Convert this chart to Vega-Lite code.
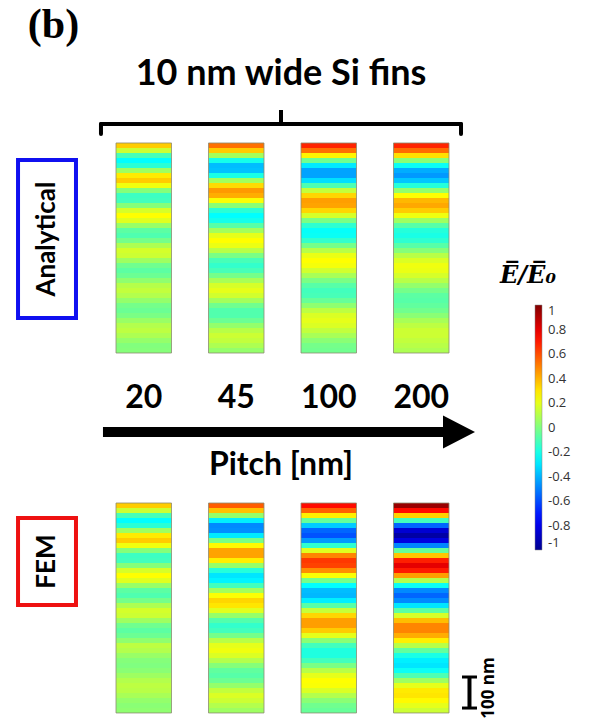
{
  "$schema": "https://vega.github.io/schema/vega-lite/v6.json",
  "width": 605,
  "height": 725,
  "autosize": {"type": "fit", "contains": "padding"},
  "padding": 0,
  "background": "white",
  "config": {"view": {"stroke": null}},
  "datasets": {
    "analytical": [
      {"z": 0, "20": 0.35, "45": 0.53, "100": 0.68, "200": 0.68},
      {"z": 16, "20": 0.15, "45": 0.35, "100": 0.53, "200": 0.54},
      {"z": 32, "20": -0.11, "45": 0.07, "100": 0.27, "200": 0.31},
      {"z": 48, "20": -0.25, "45": -0.21, "100": -0.03, "200": 0.02},
      {"z": 64, "20": -0.17, "45": -0.38, "100": -0.29, "200": -0.23},
      {"z": 80, "20": 0.06, "45": -0.37, "100": -0.43, "200": -0.41},
      {"z": 96, "20": 0.29, "45": -0.2, "100": -0.43, "200": -0.45},
      {"z": 112, "20": 0.35, "45": 0.07, "100": -0.31, "200": -0.36},
      {"z": 128, "20": 0.22, "45": 0.32, "100": -0.1, "200": -0.18},
      {"z": 144, "20": 0.01, "45": 0.45, "100": 0.135, "200": 0.04},
      {"z": 160, "20": -0.13, "45": 0.41, "100": 0.33, "200": 0.25},
      {"z": 176, "20": -0.12, "45": 0.24, "100": 0.44, "200": 0.39},
      {"z": 192, "20": 0.01, "45": 0.02, "100": 0.43, "200": 0.42},
      {"z": 208, "20": 0.17, "45": -0.17, "100": 0.33, "200": 0.35},
      {"z": 224, "20": 0.25, "45": -0.25, "100": 0.17, "200": 0.22},
      {"z": 240, "20": 0.19, "45": -0.21, "100": -0.01, "200": 0.06},
      {"z": 256, "20": 0.05, "45": -0.08, "100": -0.16, "200": -0.08},
      {"z": 272, "20": -0.07, "45": 0.07, "100": -0.24, "200": -0.18},
      {"z": 288, "20": -0.095, "45": 0.2, "100": -0.23, "200": -0.2},
      {"z": 304, "20": -0.02, "45": 0.25, "100": -0.15, "200": -0.16},
      {"z": 320, "20": 0.09, "45": 0.21, "100": -0.02, "200": -0.08},
      {"z": 336, "20": 0.165, "45": 0.11, "100": 0.11, "200": 0.01},
      {"z": 352, "20": 0.15, "45": -0.01, "100": 0.21, "200": 0.11},
      {"z": 368, "20": 0.06, "45": -0.11, "100": 0.25, "200": 0.18},
      {"z": 384, "20": -0.03, "45": -0.15, "100": 0.23, "200": 0.22},
      {"z": 400, "20": -0.07, "45": -0.11, "100": 0.16, "200": 0.21},
      {"z": 416, "20": -0.04, "45": -0.02, "100": 0.08, "200": 0.17},
      {"z": 432, "20": 0.03, "45": 0.08, "100": -0.01, "200": 0.11},
      {"z": 448, "20": 0.105, "45": 0.17, "100": -0.08, "200": 0.04},
      {"z": 464, "20": 0.13, "45": 0.2, "100": -0.12, "200": -0.02},
      {"z": 480, "20": 0.1, "45": 0.16, "100": -0.11, "200": -0.07},
      {"z": 496, "20": 0.04, "45": 0.07, "100": -0.05, "200": -0.08},
      {"z": 512, "20": -0.02, "45": -0.03, "100": 0.03, "200": -0.06},
      {"z": 528, "20": -0.04, "45": -0.09, "100": 0.12, "200": -0.03},
      {"z": 544, "20": -0.01, "45": -0.09, "100": 0.18, "200": 0.02},
      {"z": 560, "20": 0.05, "45": -0.04, "100": 0.2, "200": 0.08},
      {"z": 576, "20": 0.1, "45": 0.04, "100": 0.18, "200": 0.12},
      {"z": 592, "20": 0.12, "45": 0.11, "100": 0.13, "200": 0.15},
      {"z": 608, "20": 0.09, "45": 0.15, "100": 0.08, "200": 0.15},
      {"z": 624, "20": 0.043, "45": 0.13, "100": 0.02, "200": 0.13},
      {"z": 640, "20": 0.005, "45": 0.09, "100": -0.02, "200": 0.11},
      {"z": 656, "20": 0.01, "45": 0.04, "100": -0.03, "200": 0.09}
    ],
    "fem": [
      {"z": 0, "20": 0.35, "45": 0.57, "100": 0.73, "200": 0.95},
      {"z": 16, "20": 0.15, "45": 0.37, "100": 0.56, "200": 0.73},
      {"z": 32, "20": -0.11, "45": 0.04, "100": 0.28, "200": 0.34},
      {"z": 48, "20": -0.25, "45": -0.28, "100": -0.05, "200": -0.12},
      {"z": 64, "20": -0.17, "45": -0.48, "100": -0.35, "200": -0.55},
      {"z": 80, "20": 0.06, "45": -0.47, "100": -0.55, "200": -0.85},
      {"z": 96, "20": 0.29, "45": -0.29, "100": -0.59, "200": -0.95},
      {"z": 112, "20": 0.35, "45": -0.01, "100": -0.45, "200": -0.82},
      {"z": 128, "20": 0.22, "45": 0.26, "100": -0.16, "200": -0.49},
      {"z": 144, "20": 0.01, "45": 0.43, "100": 0.19, "200": -0.05},
      {"z": 160, "20": -0.13, "45": 0.43, "100": 0.49, "200": 0.36},
      {"z": 176, "20": -0.12, "45": 0.28, "100": 0.64, "200": 0.69},
      {"z": 192, "20": 0.01, "45": 0.045, "100": 0.62, "200": 0.8},
      {"z": 208, "20": 0.17, "45": -0.18, "100": 0.47, "200": 0.7},
      {"z": 224, "20": 0.25, "45": -0.3, "100": 0.24, "200": 0.44},
      {"z": 240, "20": 0.19, "45": -0.27, "100": -0.02, "200": 0.1},
      {"z": 256, "20": 0.05, "45": -0.12, "100": -0.25, "200": -0.23},
      {"z": 272, "20": -0.07, "45": 0.07, "100": -0.38, "200": -0.48},
      {"z": 288, "20": -0.095, "45": 0.245, "100": -0.39, "200": -0.55},
      {"z": 304, "20": -0.02, "45": 0.33, "100": -0.28, "200": -0.48},
      {"z": 320, "20": 0.09, "45": 0.3, "100": -0.08, "200": -0.3},
      {"z": 336, "20": 0.165, "45": 0.19, "100": 0.14, "200": -0.07},
      {"z": 352, "20": 0.15, "45": 0.04, "100": 0.33, "200": 0.17},
      {"z": 368, "20": 0.06, "45": -0.09, "100": 0.44, "200": 0.38},
      {"z": 384, "20": -0.03, "45": -0.15, "100": 0.44, "200": 0.49},
      {"z": 400, "20": -0.07, "45": -0.12, "100": 0.35, "200": 0.49},
      {"z": 416, "20": -0.04, "45": -0.02, "100": 0.2, "200": 0.41},
      {"z": 432, "20": 0.03, "45": 0.11, "100": 0.02, "200": 0.28},
      {"z": 448, "20": 0.12, "45": 0.2, "100": -0.12, "200": 0.11},
      {"z": 464, "20": 0.1, "45": 0.22, "100": -0.19, "200": -0.06},
      {"z": 480, "20": 0.05, "45": 0.18, "100": -0.19, "200": -0.2},
      {"z": 496, "20": 0.01, "45": 0.1, "100": -0.12, "200": -0.28},
      {"z": 512, "20": 0.0, "45": 0.01, "100": -0.01, "200": -0.3},
      {"z": 528, "20": 0.02, "45": -0.06, "100": 0.11, "200": -0.23},
      {"z": 544, "20": 0.06, "45": -0.08, "100": 0.2, "200": -0.1},
      {"z": 560, "20": 0.1, "45": -0.04, "100": 0.25, "200": 0.06},
      {"z": 576, "20": 0.12, "45": 0.04, "100": 0.24, "200": 0.2},
      {"z": 592, "20": 0.11, "45": 0.13, "100": 0.18, "200": 0.29},
      {"z": 608, "20": 0.08, "45": 0.18, "100": 0.1, "200": 0.3},
      {"z": 624, "20": 0.04, "45": 0.15, "100": 0.02, "200": 0.26},
      {"z": 640, "20": 0.02, "45": 0.1, "100": -0.03, "200": 0.2},
      {"z": 656, "20": 0.03, "45": 0.06, "100": -0.05, "200": 0.15}
    ],
    "pitches": [
      {"pitch": "20"}, {"pitch": "45"}, {"pitch": "100"}, {"pitch": "200"}
    ]
  },
  "layer": [
    {
      "data": {"name": "analytical"},
      "transform": [{"fold": ["20", "45", "100", "200"], "as": ["pitch", "v"]}],
      "mark": {"type": "rect"},
      "encoding": {
        "x": {"field": "pitch", "type": "nominal", "scale": {"type": "band", "domain": ["20", "45", "100", "200"], "range": [116, 449], "paddingInner": 0.4, "paddingOuter": 0}, "axis": null},
        "y": {"field": "z", "type": "ordinal", "scale": {"type": "band", "range": [143, 353], "paddingInner": 0, "paddingOuter": 0}, "axis": null},
        "color": {
          "field": "v", "type": "quantitative",
          "scale": {"domain": [-1, -0.75, -0.25, 0.25, 0.75, 1], "range": ["#00008f", "#0000ff", "#00ffff", "#ffff00", "#ff0000", "#800000"], "interpolate": "rgb"},
          "legend": {"orient": "none", "legendX": 535, "legendY": 305, "direction": "vertical", "gradientLength": 245, "gradientThickness": 7, "title": null, "padding": 0, "values": [1, 0.8, 0.6, 0.4, 0.2, 0, -0.2, -0.4, -0.6, -0.8, -1], "labelExpr": "'' + datum.value", "labelFont": "Open Sans", "labelFontSize": 13, "labelColor": "#333333", "labelOffset": 6, "labelBaseline": "middle", "labelAlign": "left", "labelOverlap": false, "gradientStrokeColor": "#888888", "gradientStrokeWidth": 0.5}
        }
      }
    },
    {
      "data": {"name": "fem"},
      "transform": [{"fold": ["20", "45", "100", "200"], "as": ["pitch", "v"]}],
      "mark": {"type": "rect"},
      "encoding": {
        "x": {"field": "pitch", "type": "nominal", "scale": {"type": "band", "domain": ["20", "45", "100", "200"], "range": [116, 449], "paddingInner": 0.4, "paddingOuter": 0}, "axis": null},
        "y": {"field": "z", "type": "ordinal", "scale": {"type": "band", "range": [503, 713], "paddingInner": 0, "paddingOuter": 0}, "axis": null},
        "color": {
          "field": "v", "type": "quantitative",
          "scale": {"domain": [-1, -0.75, -0.25, 0.25, 0.75, 1], "range": ["#00008f", "#0000ff", "#00ffff", "#ffff00", "#ff0000", "#800000"], "interpolate": "rgb"},
          "legend": {"orient": "none", "legendX": 535, "legendY": 305, "direction": "vertical", "gradientLength": 245, "gradientThickness": 7, "title": null, "padding": 0, "values": [1, 0.8, 0.6, 0.4, 0.2, 0, -0.2, -0.4, -0.6, -0.8, -1], "labelExpr": "'' + datum.value", "labelFont": "Open Sans", "labelFontSize": 13, "labelColor": "#333333", "labelOffset": 6, "labelBaseline": "middle", "labelAlign": "left", "labelOverlap": false, "gradientStrokeColor": "#888888", "gradientStrokeWidth": 0.5}
        }
      }
    },
    {
      "data": {"name": "pitches"},
      "encoding": {
        "x": {"field": "pitch", "type": "nominal", "scale": {"type": "band", "domain": ["20", "45", "100", "200"], "range": [116, 449], "paddingInner": 0.4, "paddingOuter": 0}, "axis": null}
      },
      "layer": [
        {
          "mark": {"type": "text", "font": "Lato", "fontSize": 32, "fontWeight": "bold", "align": "center", "baseline": "alphabetic", "color": "black"},
          "encoding": {
            "y": {"datum": 56.28, "type": "quantitative", "scale": {"domain": [100, 0], "nice": false, "zero": false}, "axis": null},
            "text": {"field": "pitch"}
          }
        },
        {
          "mark": {"type": "rect", "fillOpacity": 0, "stroke": "#8c8c70", "strokeWidth": 1, "strokeOpacity": 0.8},
          "encoding": {
            "y": {"datum": 19.72, "type": "quantitative", "axis": null},
            "y2": {"datum": 48.69}
          }
        },
        {
          "mark": {"type": "rect", "fillOpacity": 0, "stroke": "#8c8c70", "strokeWidth": 1, "strokeOpacity": 0.8},
          "encoding": {
            "y": {"datum": 69.38, "type": "quantitative", "axis": null},
            "y2": {"datum": 98.34}
          }
        }
      ]
    },
    {
      "data": {"values": [{}]},
      "layer": [
        {
          "mark": {"type": "text", "text": "(b)", "font": "Liberation Serif", "fontSize": 42, "fontWeight": "bold", "align": "center", "baseline": "alphabetic", "color": "black"},
          "encoding": {
            "x": {"datum": 8.84, "type": "quantitative", "scale": {"domain": [0, 100], "nice": false, "zero": false}, "axis": null},
            "y": {"datum": 5.24, "type": "quantitative", "scale": {"domain": [100, 0], "nice": false, "zero": false}, "axis": null}
          }
        },
        {
          "mark": {"type": "text", "text": "10 nm wide Si fins", "font": "Lato", "fontSize": 36, "fontWeight": "bold", "align": "center", "baseline": "alphabetic", "color": "black"},
          "encoding": {
            "x": {"datum": 46.45, "type": "quantitative", "axis": null},
            "y": {"datum": 11.72, "type": "quantitative", "axis": null}
          }
        },
        {
          "mark": {"type": "rule", "strokeWidth": 4, "color": "black", "strokeCap": "round"},
          "encoding": {
            "x": {"datum": 16.69, "type": "quantitative", "axis": null},
            "x2": {"datum": 76.2},
            "y": {"datum": 17.1, "type": "quantitative", "axis": null}
          }
        },
        {
          "mark": {"type": "rule", "strokeWidth": 4, "color": "black", "strokeCap": "round"},
          "encoding": {
            "x": {"datum": 16.69, "type": "quantitative", "axis": null},
            "y": {"datum": 17.1, "type": "quantitative", "axis": null},
            "y2": {"datum": 18.48}
          }
        },
        {
          "mark": {"type": "rule", "strokeWidth": 4, "color": "black", "strokeCap": "round"},
          "encoding": {
            "x": {"datum": 76.2, "type": "quantitative", "axis": null},
            "y": {"datum": 17.1, "type": "quantitative", "axis": null},
            "y2": {"datum": 18.48}
          }
        },
        {
          "mark": {"type": "rule", "strokeWidth": 4, "color": "black", "strokeCap": "butt"},
          "encoding": {
            "x": {"datum": 46.45, "type": "quantitative", "axis": null},
            "y": {"datum": 15.17, "type": "quantitative", "axis": null},
            "y2": {"datum": 17.1}
          }
        },
        {
          "mark": {"type": "rule", "strokeWidth": 10, "color": "black", "strokeCap": "butt"},
          "encoding": {
            "x": {"datum": 17.02, "type": "quantitative", "axis": null},
            "x2": {"datum": 74.38},
            "y": {"datum": 59.59, "type": "quantitative", "axis": null}
          }
        },
        {
          "mark": {"type": "point", "shape": "M-0.94,-1L1,0L-0.94,1Z", "size": 1089, "filled": true, "color": "black", "opacity": 1},
          "encoding": {
            "x": {"datum": 75.79, "type": "quantitative", "axis": null},
            "y": {"datum": 59.59, "type": "quantitative", "axis": null}
          }
        },
        {
          "mark": {"type": "text", "text": "Pitch [nm]", "font": "Lato", "fontSize": 32, "fontWeight": "bold", "align": "center", "baseline": "alphabetic", "color": "black"},
          "encoding": {
            "x": {"datum": 46.45, "type": "quantitative", "axis": null},
            "y": {"datum": 65.52, "type": "quantitative", "axis": null}
          }
        },
        {
          "mark": {"type": "rect", "fillOpacity": 0, "stroke": "#1010f0", "strokeWidth": 4},
          "encoding": {
            "x": {"datum": 2.98, "type": "quantitative", "axis": null},
            "x2": {"datum": 12.56},
            "y": {"datum": 22.07, "type": "quantitative", "axis": null},
            "y2": {"datum": 43.86}
          }
        },
        {
          "mark": {"type": "text", "text": "Analytical", "font": "Lato", "fontSize": 26, "fontWeight": "bold", "align": "center", "baseline": "middle", "angle": 270, "color": "black"},
          "encoding": {
            "x": {"datum": 7.77, "type": "quantitative", "axis": null},
            "y": {"datum": 32.97, "type": "quantitative", "axis": null}
          }
        },
        {
          "mark": {"type": "rect", "fillOpacity": 0, "stroke": "#ee1111", "strokeWidth": 4},
          "encoding": {
            "x": {"datum": 2.98, "type": "quantitative", "axis": null},
            "x2": {"datum": 12.56},
            "y": {"datum": 71.45, "type": "quantitative", "axis": null},
            "y2": {"datum": 83.45}
          }
        },
        {
          "mark": {"type": "text", "text": "FEM", "font": "Lato", "fontSize": 26, "fontWeight": "bold", "align": "center", "baseline": "middle", "angle": 270, "color": "black"},
          "encoding": {
            "x": {"datum": 7.77, "type": "quantitative", "axis": null},
            "y": {"datum": 77.45, "type": "quantitative", "axis": null}
          }
        },
        {
          "mark": {"type": "rule", "strokeWidth": 4, "color": "black"},
          "encoding": {
            "x": {"datum": 77.6, "type": "quantitative", "axis": null},
            "y": {"datum": 93.38, "type": "quantitative", "axis": null},
            "y2": {"datum": 97.66}
          }
        },
        {
          "mark": {"type": "rule", "strokeWidth": 3, "color": "black"},
          "encoding": {
            "x": {"datum": 76.36, "type": "quantitative", "axis": null},
            "x2": {"datum": 78.84},
            "y": {"datum": 93.38, "type": "quantitative", "axis": null}
          }
        },
        {
          "mark": {"type": "rule", "strokeWidth": 3, "color": "black"},
          "encoding": {
            "x": {"datum": 76.36, "type": "quantitative", "axis": null},
            "x2": {"datum": 78.84},
            "y": {"datum": 97.66, "type": "quantitative", "axis": null}
          }
        },
        {
          "mark": {"type": "text", "text": "100 nm", "font": "Open Sans", "fontSize": 17, "fontWeight": "bold", "align": "center", "baseline": "middle", "angle": 270, "color": "black"},
          "encoding": {
            "x": {"datum": 80.83, "type": "quantitative", "axis": null},
            "y": {"datum": 94.9, "type": "quantitative", "axis": null}
          }
        },
        {
          "mark": {"type": "text", "text": "E\u0305/E\u0305\u2080", "font": "DejaVu Serif", "fontSize": 24, "fontWeight": "bold", "fontStyle": "italic", "align": "center", "baseline": "alphabetic", "color": "black"},
          "encoding": {
            "x": {"datum": 87.27, "type": "quantitative", "axis": null},
            "y": {"datum": 39.03, "type": "quantitative", "axis": null}
          }
        }
      ]
    }
  ],
  "resolve": {"scale": {"x": "independent", "y": "independent"}}
}
